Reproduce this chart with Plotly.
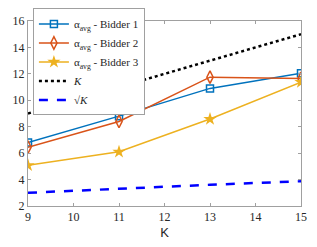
import plotly.graph_objects as go

K = [9, 11, 13, 15]
bidder1 = [6.8, 8.8, 10.9, 12.05]
bidder2 = [6.45, 8.4, 11.75, 11.65]
bidder3 = [5.08, 6.1, 8.58, 11.37]
k_line = [9, 11, 13, 15]
sqrt_k = [3.0, 3.317, 3.606, 3.873]

names = ["α<sub>avg</sub> - Bidder 1", "α<sub>avg</sub> - Bidder 2", "α<sub>avg</sub> - Bidder 3", "<i>K</i>", "√<i>K</i>"]
colors = ["#0072BD", "#D95319", "#EDB120", "#000000", "#0000FF"]

fig = go.Figure()
fig.add_trace(go.Scatter(x=K, y=bidder1, name=names[0], mode="lines+markers",
                         line=dict(color=colors[0], width=1.5),
                         marker=dict(symbol="square-open", size=7, color=colors[0], line=dict(width=1.5))))
fig.add_trace(go.Scatter(x=K, y=bidder2, name=names[1], mode="lines+markers",
                         line=dict(color=colors[1], width=1.5),
                         marker=dict(symbol="diamond-tall-open", size=9, color=colors[1], line=dict(width=1.5))))
fig.add_trace(go.Scatter(x=K, y=bidder3, name=names[2], mode="lines+markers",
                         line=dict(color=colors[2], width=1.5),
                         marker=dict(symbol="star", size=10, color=colors[2], line=dict(width=0))))
fig.add_trace(go.Scatter(x=K, y=k_line, name=names[3], mode="lines",
                         line=dict(color=colors[3], width=2.5, dash="dot")))
fig.add_trace(go.Scatter(x=K, y=sqrt_k, name=names[4], mode="lines",
                         line=dict(color=colors[4], width=2.5, dash="dash")))

tick_font = dict(family="Liberation Serif, DejaVu Serif, serif", size=12, color="#262626")
fig.update_layout(
    width=317, height=247,
    margin=dict(l=28, r=16, t=21, b=41, autoexpand=False),
    paper_bgcolor="white", plot_bgcolor="white",
    showlegend=True,
    legend=dict(x=0.018, y=1.068, xanchor="left", yanchor="top",
                bgcolor="white", bordercolor="#a0a0a0", borderwidth=1,
                font=dict(family="Liberation Serif, DejaVu Serif, serif", size=11, color="#262626"),
                tracegroupgap=0, itemwidth=30),
    xaxis=dict(range=[9, 15], tickvals=[9, 10, 11, 12, 13, 14, 15], showgrid=False, zeroline=False,
               showline=True, linecolor="#a0a0a0", linewidth=1, mirror="ticks", automargin=False,
               ticks="inside", ticklen=3, tickcolor="#a0a0a0", tickfont=tick_font,
               title=dict(text="K", font=dict(family="Liberation Sans, Arial, sans-serif", size=13, color="#262626"), standoff=4)),
    yaxis=dict(range=[2, 16], tickvals=[2, 4, 6, 8, 10, 12, 14, 16], showgrid=False, zeroline=False,
               showline=True, linecolor="#a0a0a0", linewidth=1, mirror="ticks", automargin=False,
               ticks="inside", ticklen=3, tickcolor="#a0a0a0", tickfont=tick_font),
)

fig.write_html("out.html", config={"displayModeBar": False},
               post_script="document.body.style.margin='0';")
